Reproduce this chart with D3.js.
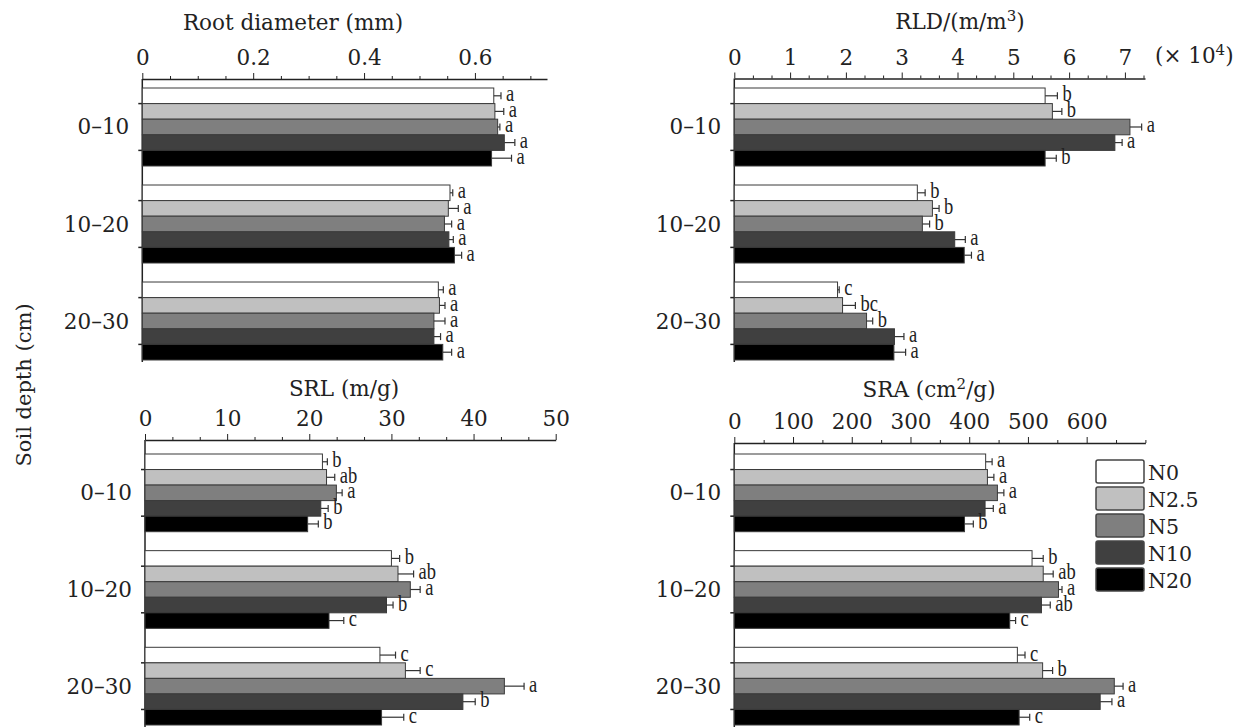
<!DOCTYPE html>
<html>
<head>
<meta charset="utf-8">
<script src="https://cdnjs.cloudflare.com/ajax/libs/d3/7.8.5/d3.min.js"></script>
<style>
  body { margin: 0; background: #fff; }
  svg { display: block; }
  .tick text { font-family: "DejaVu Serif", serif; font-size: 21.5px; fill: #222; }
  .ttl { font-family: "DejaVu Serif", serif; font-size: 21.5px; fill: #222; }
  .leg { font-family: "DejaVu Serif", serif; font-size: 20.5px; fill: #222; }
  .sig { font-family: "Liberation Serif", "Times New Roman", serif; font-size: 18.5px; fill: #222; }
</style>
</head>
<body>
<svg width="1234" height="728"></svg>
<script>
var depths = ["0\u201310", "10\u201320", "20\u201330"];
var treatments = ["N0", "N2.5", "N5", "N10", "N20"];
var fills = ["#ffffff", "#c0c0c0", "#7f7f7f", "#404040", "#000000"];

// root diameter (mm)
var diamMean = [[0.634, 0.636, 0.641, 0.653, 0.630], [0.555, 0.552, 0.545, 0.553, 0.563], [0.534, 0.536, 0.526, 0.526, 0.542]];
var diamErr  = [[0.013, 0.016, 0.004, 0.019, 0.036], [0.005, 0.018, 0.013, 0.008, 0.013], [0.009, 0.010, 0.020, 0.012, 0.016]];
var diamSig  = [["a", "a", "a", "a", "a"], ["a", "a", "a", "a", "a"], ["a", "a", "a", "a", "a"]];
var diamTicks = [0, 0.2, 0.4, 0.6];

// RLD (x 10^4 m/m3)
var rldMean = [[5.57, 5.70, 7.09, 6.82, 5.57], [3.28, 3.55, 3.37, 3.95, 4.12], [1.85, 1.94, 2.37, 2.87, 2.86]];
var rldErr  = [[0.22, 0.17, 0.21, 0.13, 0.20], [0.14, 0.12, 0.13, 0.19, 0.13], [0.03, 0.23, 0.11, 0.17, 0.21]];
var rldSig  = [["b", "b", "a", "a", "b"], ["b", "b", "b", "a", "a"], ["c", "bc", "b", "a", "a"]];
var rldTicks = [0, 1, 2, 3, 4, 5, 6, 7];

// SRL (m/g)
var srlMean = [[21.6, 22.1, 23.3, 21.4, 19.8], [30.0, 30.8, 32.3, 29.4, 22.4], [28.6, 31.7, 43.75, 38.7, 28.8]];
var srlErr  = [[0.6, 1.0, 0.7, 0.9, 1.3], [1.0, 1.9, 1.2, 0.8, 1.8], [1.9, 1.8, 2.4, 1.5, 2.7]];
var srlSig  = [["b", "ab", "a", "b", "b"], ["b", "ab", "a", "b", "c"], ["c", "c", "a", "b", "c"]];
var srlTicks = [0, 10, 20, 30, 40, 50];

// SRA (cm2/g)
var sraMean = [[428, 431, 448, 427, 392], [507, 526, 552, 523, 469], [482, 525, 647, 623, 485]];
var sraErr  = [[11, 11, 11, 14, 15], [19, 17, 6, 15, 10], [13, 17, 15, 20, 18]];
var sraSig  = [["a", "a", "a", "a", "b"], ["b", "ab", "a", "ab", "c"], ["c", "b", "a", "a", "c"]];
var sraTicks = [0, 100, 200, 300, 400, 500, 600];

var svg = d3.select("svg");

var panels = [
  { mean: diamMean, err: diamErr, sig: diamSig, ticks: diamTicks, max: 0.73, minor: 0.05,
    x0: 142.3, x1: 547, axisY: 79, yr: [88, 360], title: [["Root diameter (mm)"]], tx: 293, ty: 30 },
  { mean: rldMean, err: rldErr, sig: rldSig, ticks: rldTicks, max: 7.36, minor: 1 / 3,
    x0: 734.3, x1: 1145, axisY: 78.5, yr: [88, 360], title: [["RLD/(m/m"], ["3", true], [")"]], tx: 960, ty: 29 },
  { mean: srlMean, err: srlErr, sig: srlSig, ticks: srlTicks, max: 50, minor: 10 / 3,
    x0: 145, x1: 555.7, axisY: 440, yr: [454, 725], title: [["SRL (m/g)"]], tx: 344, ty: 396 },
  { mean: sraMean, err: sraErr, sig: sraSig, ticks: sraTicks, max: 700, minor: 50,
    x0: 734.3, x1: 1145.4, axisY: 443, yr: [454, 725], title: [["SRA (cm"], ["2", true], ["/g)"]], tx: 929, ty: 397 }
];

panels.forEach(function(p) {
  var g = svg.append("g");

  var x = d3.scaleLinear().domain([0, p.max]).range([p.x0, p.x1]);
  var y = d3.scaleBand().domain(depths).range(p.yr).paddingInner(0.196).paddingOuter(0);
  var sub = d3.scaleBand().domain(treatments).range([0, y.bandwidth()]);

  // minor ticks
  var minorVals = d3.range(0, p.max + 1e-9, p.minor).filter(function(v) {
    return !p.ticks.some(function(t) { return Math.abs(t - v) < 1e-6; });
  });
  g.append("g")
      .attr("transform", "translate(0," + p.axisY + ")")
      .call(d3.axisTop(x).tickValues(minorVals).tickSize(3).tickFormat(""))
    .call(function(a) { a.select(".domain").remove(); })
    .selectAll("line").attr("stroke", "#222");

  var ax = g.append("g")
      .attr("transform", "translate(0," + p.axisY + ")")
      .call(d3.axisTop(x).tickValues(p.ticks).tickSize(6).tickSizeOuter(0).tickPadding(8)
        .tickFormat(d3.format("~g")));
  ax.select(".domain").attr("stroke", "#222").attr("stroke-width", 1.5);
  ax.selectAll(".tick line").attr("stroke", "#222");

  // left axis line
  g.append("line")
      .attr("x1", p.x0).attr("x2", p.x0)
      .attr("y1", p.axisY).attr("y2", p.yr[1] + 2)
      .attr("stroke", "#222").attr("stroke-width", 1.5);

  depths.forEach(function(dep, di) {
    var gy = y(dep);
    // small inner ticks on the left axis
    [1, 4].forEach(function(k) {
      g.append("line")
          .attr("x1", p.x0 - 4).attr("x2", p.x0 + 2)
          .attr("y1", gy + sub.step() * k).attr("y2", gy + sub.step() * k)
          .attr("stroke", "#222").attr("stroke-width", 1.5);
    });

    g.append("text").attr("class", "ttl")
        .attr("x", p.x0 - 13).attr("y", gy + y.bandwidth() / 2 + 7.5)
        .attr("text-anchor", "end")
        .text(dep);

    var rows = treatments.map(function(t, i) {
      return { t: t, i: i, m: p.mean[di][i], e: p.err[di][i], s: p.sig[di][i] };
    });

    var bg = g.append("g").attr("transform", "translate(0," + gy + ")");
    bg.selectAll("rect").data(rows).enter().append("rect")
        .attr("x", x(0))
        .attr("y", function(d) { return sub(d.t); })
        .attr("width", function(d) { return x(d.m) - x(0); })
        .attr("height", sub.bandwidth())
        .attr("fill", function(d) { return fills[d.i]; })
        .attr("stroke", "#3a3a3a").attr("stroke-width", 1);

    var eb = bg.selectAll("g.err").data(rows).enter().append("g").attr("class", "err");
    eb.append("line")
        .attr("x1", function(d) { return x(d.m); })
        .attr("x2", function(d) { return x(d.m + d.e); })
        .attr("y1", function(d) { return sub(d.t) + sub.bandwidth() / 2; })
        .attr("y2", function(d) { return sub(d.t) + sub.bandwidth() / 2; })
        .attr("stroke", "#333").attr("stroke-width", 1.2);
    eb.append("line")
        .attr("x1", function(d) { return x(d.m + d.e); })
        .attr("x2", function(d) { return x(d.m + d.e); })
        .attr("y1", function(d) { return sub(d.t) + sub.bandwidth() / 2 - 3.5; })
        .attr("y2", function(d) { return sub(d.t) + sub.bandwidth() / 2 + 3.5; })
        .attr("stroke", "#333").attr("stroke-width", 1.2);

    bg.selectAll("text.sig").data(rows).enter().append("text")
        .attr("class", "sig")
        .attr("transform", function(d) {
          return "translate(" + (x(d.m + d.e) + 5) + "," + (sub(d.t) + sub.bandwidth() / 2 + 5.5) + ") scale(1,1.3)";
        })
        .text(function(d) { return d.s; });
  });

  var tt = g.append("text").attr("class", "ttl").attr("x", p.tx).attr("y", p.ty).attr("text-anchor", "middle");
  var up = false;
  p.title.forEach(function(part) {
    var sp = tt.append("tspan").text(part[0]);
    if (part[1]) { sp.attr("dy", -8).attr("font-size", "15px"); up = true; }
    else if (up) { sp.attr("dy", 8); up = false; }
  });
});

// (x 10^4) label for RLD
var mult = svg.append("text").attr("class", "ttl").attr("x", 1155).attr("y", 63);
mult.append("tspan").text("(\u00d7 10");
mult.append("tspan").attr("dy", -8).attr("font-size", "15px").text("4");
mult.append("tspan").attr("dy", 8).text(")");

// y title
svg.append("text").attr("class", "ttl")
    .attr("transform", "translate(31,385) rotate(-90)")
    .attr("text-anchor", "middle")
    .style("font-size", "21px")
    .text("Soil depth (cm)");

// legend
var leg = svg.append("g").attr("transform", "translate(1096,460)");
var li = leg.selectAll("g").data(treatments).enter().append("g")
    .attr("transform", function(d, i) { return "translate(0," + i * 27 + ")"; });
li.append("rect")
    .attr("width", 48).attr("height", 23).attr("rx", 2)
    .attr("fill", function(d, i) { return fills[i]; })
    .attr("stroke", "#444").attr("stroke-width", 1.5);
li.append("text").attr("class", "leg")
    .attr("x", 52).attr("y", 20)
    .text(function(d) { return d; });
</script>
</body>
</html>
